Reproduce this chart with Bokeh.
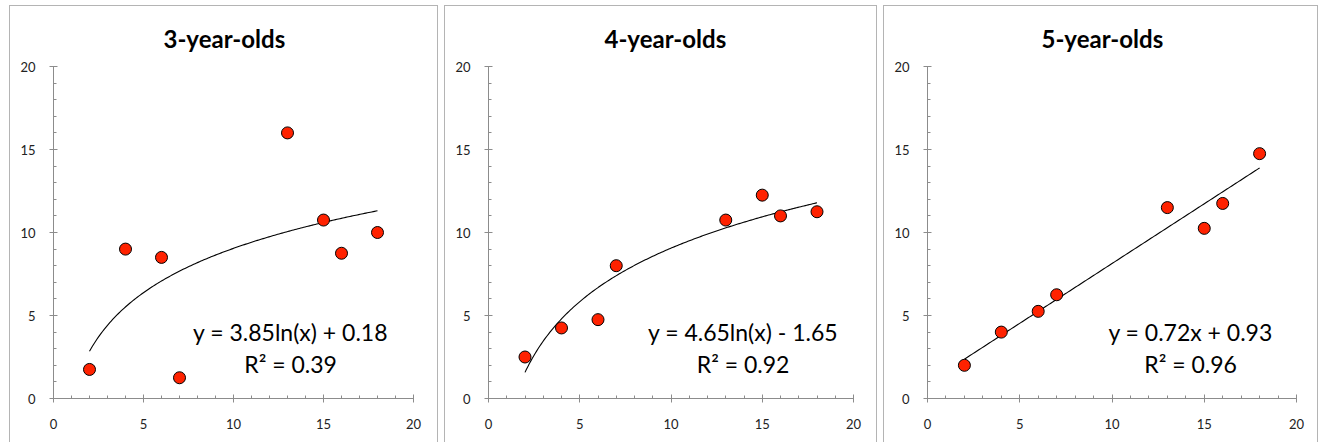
import numpy as np
from bokeh.plotting import figure
from bokeh.layouts import row
from bokeh.models import Label, ColumnDataSource, FixedTicker
from bokeh.embed import file_html
from bokeh.resources import INLINE

titles = ["3-year-olds", "4-year-olds", "5-year-olds"]
x_vals = [2, 4, 6, 7, 13, 15, 16, 18]
y_3 = [1.75, 9.0, 8.5, 1.25, 16.0, 10.75, 8.75, 10.0]
y_4 = [2.5, 4.25, 4.75, 8.0, 10.75, 12.25, 11.0, 11.25]
y_5 = [2.0, 4.0, 5.25, 6.25, 11.5, 10.25, 11.75, 14.75]
series = [y_3, y_4, y_5]
# trendline coefficients as shown in the chart
fit_kind = ["log", "log", "linear"]
fit_a = [3.85, 4.65, 0.72]
fit_b = [0.18, -1.65, 0.93]
eq_text = ["y = 3.85ln(x) + 0.18", "y = 4.65ln(x) - 1.65", "y = 0.72x + 0.93"]
r2_text = ["R² = 0.39", "R² = 0.92", "R² = 0.96"]
ticks = [0, 5, 10, 15, 20]

FONT = "Lato"
widths = [429, 433, 435]
mbl = [43, 43, 43]
frame_w = [360, 365, 369]
eq_x = [13.17, 13.95, 14.26]
title_off = [110, 116, 114]

figs = []
for i in range(3):
    w = widths[i]
    p = figure(width=w, height=437, x_range=(0, 20), y_range=(0, 20),
               output_backend="svg", toolbar_location=None,
               min_border_left=mbl[i], min_border_top=60,
               min_border_right=w - mbl[i] - frame_w[i], min_border_bottom=45,
               background_fill_color="white", border_fill_color="white")
    p.styles = {"border-top": "1px solid #b4b4b4", "border-left": "1px solid #b4b4b4",
                "border-right": "1px solid #b4b4b4", "box-sizing": "border-box"}
    p.outline_line_color = None
    p.grid.visible = False
    p.title.text = titles[i]
    p.title.align = "left"
    p.title.text_font = FONT
    p.title.text_font_style = "bold"
    p.title.text_font_size = "24px"
    p.title.text_color = "black"
    p.title.standoff = 27
    p.title.offset = title_off[i]
    for ax in (p.xaxis[0], p.yaxis[0]):
        ax.ticker = FixedTicker(ticks=ticks, minor_ticks=list(range(0, 21)))
        ax.axis_line_color = "#8c8c8c"
        ax.major_tick_line_color = "#8c8c8c"
        ax.minor_tick_line_color = "#8c8c8c"
        ax.major_tick_in = 4
        ax.major_tick_out = 4
        ax.minor_tick_in = 3
        ax.minor_tick_out = 0
        ax.major_label_text_font = FONT
        ax.major_label_text_font_size = "13px"
        ax.major_label_text_color = "#222222"
    p.xaxis[0].major_label_standoff = 16
    p.yaxis[0].major_label_standoff = 14

    xs = np.linspace(2, 18, 200)
    if fit_kind[i] == "log":
        ys = fit_a[i] * np.log(xs) + fit_b[i]
    else:
        ys = fit_a[i] * xs + fit_b[i]
    p.line(xs, ys, line_color="black", line_width=1.1)

    src = ColumnDataSource(dict(x=x_vals, y=series[i]))
    p.scatter("x", "y", source=src, size=12, fill_color="#ff2200",
              line_color="black", line_width=1)

    p.add_layout(Label(x=eq_x[i], y=4.0, text=eq_text[i], text_align="center",
                       text_baseline="middle", text_font=FONT,
                       text_font_size="23px", text_color="black"))
    p.add_layout(Label(x=eq_x[i], y=2.1, text=r2_text[i], text_align="center",
                       text_baseline="middle", text_font=FONT,
                       text_font_size="23px", text_color="black"))
    figs.append(p)

layout = row(*figs, spacing=6, margin=(5, 0, 0, 9))
open("out.html", "w").write(file_html(layout, INLINE))
